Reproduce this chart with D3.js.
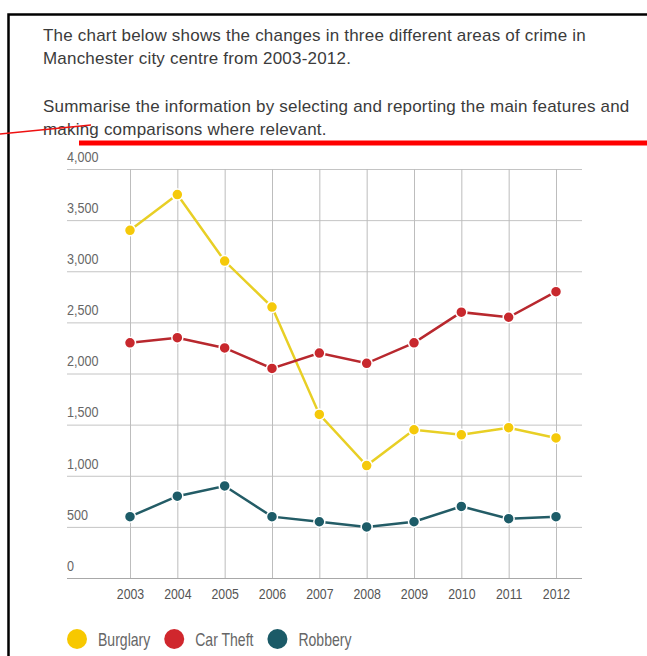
<!DOCTYPE html>
<html>
<head>
<meta charset="utf-8">
<script src="https://d3js.org/d3.v7.min.js"></script>
<style>
  html, body { margin: 0; padding: 0; background: #fff; }
  svg { display: block; }
</style>
</head>
<body>
<svg id="chart" width="647" height="656"></svg>
<script>
// ---- data ----
const years = ["2003","2004","2005","2006","2007","2008","2009","2010","2011","2012"];
const burglary = [3400, 3750, 3100, 2650, 1600, 1100, 1450, 1400, 1470, 1370];
const carTheft = [2300, 2350, 2250, 2050, 2200, 2100, 2300, 2600, 2550, 2800];
const robbery  = [600, 800, 900, 600, 550, 500, 550, 700, 580, 600];
const seriesNames = ["Burglary", "Car Theft", "Robbery"];
const yTicks = [0, 500, 1000, 1500, 2000, 2500, 3000, 3500, 4000];
const introLines = [
  "The chart below shows the changes in three different areas of crime in",
  "Manchester city centre from 2003-2012.",
  "",
  "Summarise the information by selecting and reporting the main features and",
  "making comparisons where relevant."
];

const lineColors = ["#e8cf25", "#b8282e", "#235c66"];
const dotColors  = ["#f5c90a", "#c8282d", "#1d5c68"];
const legendColors = ["#f7c800", "#d0272d", "#1b5a67"];

const svg = d3.select("#chart");
const sans = "'Liberation Sans', Arial, sans-serif";

// header text
const header = svg.append("g");
const lineY = [41, 64, 88, 112, 135];
introLines.forEach((t, i) => {
  header.append("text")
    .attr("x", 43).attr("y", lineY[i])
    .attr("font-family", sans)
    .attr("font-size", 17)
    .attr("letter-spacing", 0.2)
    .attr("fill", "#3b3b3b")
    .text(t);
});

// scales
const x = d3.scalePoint().domain(years).range([130, 556]);
const y = d3.scaleLinear().domain([0, 4000]).range([578, 169]);

const plot = svg.append("g");

// horizontal grid + labels
const yAxis = d3.axisLeft(y).tickValues(yTicks).tickSize(-(582 - 67)).tickFormat(d3.format(","));
const gy = plot.append("g").attr("transform", "translate(67,0)").call(yAxis);
gy.select(".domain").remove();
gy.selectAll(".tick line").attr("stroke", "#c4c4c4").attr("stroke-width", 1);
gy.selectAll(".tick").filter(d => d === 0).select("line").attr("stroke", "#a8a8a8");
gy.selectAll(".tick text")
  .attr("x", 0).attr("dy", "-0.55em")
  .attr("text-anchor", "start")
  .attr("transform", "scale(0.9,1)")
  .attr("font-family", sans)
  .attr("font-size", 14)
  .attr("fill", "#666");

// vertical grid + x labels
const xAxis = d3.axisBottom(x).tickSize(-(578 - 169)).tickPadding(11);
const gx = plot.append("g").attr("transform", "translate(0,578)").call(xAxis);
gx.select(".domain").remove();
gx.selectAll(".tick line").attr("stroke", "#bdbdbd").attr("stroke-width", 1);
gx.selectAll(".tick text")
  .attr("transform", "scale(0.88,1)")
  .attr("font-family", sans)
  .attr("font-size", 14)
  .attr("fill", "#555");

// series
const allSeries = [burglary, carTheft, robbery];
const line = d3.line().x((d, i) => x(years[i])).y(d => y(d));
allSeries.forEach((vals, s) => {
  plot.append("path")
    .datum(vals)
    .attr("d", line)
    .attr("fill", "none")
    .attr("stroke", lineColors[s])
    .attr("stroke-width", 2.5);
  plot.append("g").selectAll("circle")
    .data(vals)
    .join("circle")
    .attr("cx", (d, i) => x(years[i]))
    .attr("cy", d => y(d))
    .attr("r", 5.5)
    .attr("fill", dotColors[s])
    .attr("stroke", "#fff")
    .attr("stroke-width", 1.5);
});

// legend
const legend = svg.append("g");
const sx = 0.78;
let lx = 67;
seriesNames.forEach((name, s) => {
  legend.append("circle").attr("cx", lx + 10).attr("cy", 639).attr("r", 10).attr("fill", legendColors[s]);
  const t = legend.append("text")
    .attr("transform", `translate(${lx + 31},646) scale(${sx},1)`)
    .attr("font-family", sans)
    .attr("font-size", 18)
    .attr("fill", "#666")
    .text(name);
  lx = lx + 31 + t.node().getComputedTextLength() * sx + 14;
});

// annotation marks (border and red strokes)
svg.append("path")
  .attr("d", "M647,14.5 H8.5 V656")
  .attr("fill", "none").attr("stroke", "#000").attr("stroke-width", 2.5);
svg.append("line")
  .attr("x1", 79).attr("x2", 647).attr("y1", 143).attr("y2", 143)
  .attr("stroke", "#ff0000").attr("stroke-width", 5);
svg.append("line")
  .attr("x1", 0).attr("y1", 134).attr("x2", 91).attr("y2", 125)
  .attr("stroke", "#ee1111").attr("stroke-width", 1.5);
</script>
</body>
</html>
